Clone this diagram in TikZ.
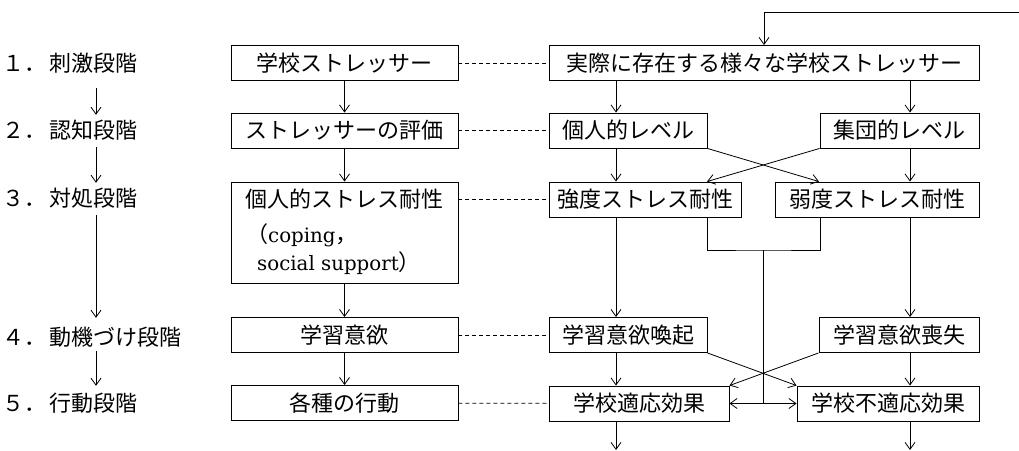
\documentclass[tikz,border=0pt]{standalone}
\usepackage{fontspec}
\setmainfont{Noto Sans CJK JP}
\newfontfamily\lat[Scale=0.9]{DejaVu Serif}
\usetikzlibrary{arrows.meta}
\begin{document}
\begin{tikzpicture}[x=1pt,y=-1pt,
  font=\fontsize{22}{26}\selectfont,
  box/.style={draw, line width=0.9pt, inner sep=0pt, minimum height=35pt},
  txt/.style={inner sep=0pt},
  lab/.style={inner sep=0pt, anchor=west, minimum height=26pt},
  arr/.style={line width=0.8pt, -{Straight Barb[length=7pt,width=10pt,line width=0.8pt]}},
  ln/.style={line width=0.8pt},
  dsh/.style={line width=0.8pt, dash pattern=on 4pt off 3pt}]
\useasboundingbox[fill=white] (0,0) rectangle (1019,450);

% stage labels
\node[lab] (L1) at (2,63)  {１．\hspace{3pt}刺激段階};
\node[lab] (L2) at (2,130) {２．\hspace{3pt}認知段階};
\node[lab] (L3) at (2,198) {３．\hspace{3pt}対処段階};
\node[lab] (L4) at (2,337) {４．\hspace{3pt}動機づけ段階};
\node[lab] (L5) at (2,403) {５．\hspace{3pt}行動段階};
\coordinate (ax) at (96,0);
\draw[arr, shorten <=12pt, shorten >=2pt] (L1.south -| ax) -- (L2.north -| ax);
\draw[arr, shorten <=4pt, shorten >=2pt] (L2.south -| ax) -- (L3.north -| ax);
\draw[arr, shorten <=4pt, shorten >=6pt] (L3.south -| ax) -- (L4.north -| ax);
\draw[arr, shorten <=1pt, shorten >=4pt] (L4.south -| ax) -- (L5.north -| ax);

% left column
\node[box, minimum width=227pt] (A1) at (344.5,63) {学校ストレッサー};
\node[box, minimum width=227pt] (A2) at (344.5,130.5) {ストレッサーの評価};
\node[box, minimum width=227pt, minimum height=101pt] (A3) at (344.5,232.5) {};
\node[txt] (A3a) at (344.5,199) {個人的ストレス耐性};
\node[txt, anchor=west] (A3b) at (246,235) {（{\lat coping}，};
\node[txt, anchor=west] (A3c) at (257,263) {{\lat social support}）};
\node[box, minimum width=227pt] (A4) at (344.5,335) {学習意欲};
\node[box, minimum width=227pt] (A5) at (344.5,403) {各種の行動};
\draw[arr] (A1) -- (A2);
\draw[arr] (A2) -- (A3);
\draw[arr] (A3) -- (A4);
\draw[arr] (A4) -- (A5);

% right part
\node[box, minimum width=430pt] (B1) at (764,63) {実際に存在する様々な学校ストレッサー};
\node[box, minimum width=158pt] (P2) at (628,130.5) {個人的レベル};
\node[box, minimum width=159pt] (G2) at (899.5,130.5) {集団的レベル};
\node[box, minimum width=192pt] (S3) at (645,199.5) {強度ストレス耐性};
\node[box, minimum width=204pt] (W3) at (877,199.5) {弱度ストレス耐性};
\node[box, minimum width=158pt] (P4) at (628,335) {学習意欲喚起};
\node[box, minimum width=160pt] (G4) at (899,335) {学習意欲喪失};
\node[box, minimum width=180pt] (P5) at (639,403.5) {学校適応効果};
\node[box, minimum width=182pt] (G5) at (888,403.5) {学校不適応効果};

\coordinate (vl) at (616,0);
\coordinate (vr) at (910,0);
\coordinate (fb) at (1019,12);
\draw[arr] (fb) -| (B1.north);
\draw[arr] (B1.south -| vl) -- (P2.north -| vl);
\draw[arr] (B1.south -| vr) -- (G2.north -| vr);
\draw[arr] (P2.south -| vl) -- (S3.north -| vl);
\draw[arr] (G2.south -| vr) -- (W3.north -| vr);
\coordinate (cx1) at (819,0);
\coordinate (cx2) at (707,0);
\draw[arr] (P2.south east) -- (W3.north -| cx1);
\draw[arr] (G2.south west) -- (S3.north -| cx2);
\draw[arr] (S3.south -| vl) -- (P4.north -| vl);
\draw[arr] (W3.south -| vr) -- (G4.north -| vr);

% junction
\coordinate (jl) at (707,0);
\coordinate (jr) at (820,0);
\coordinate (jc) at (763,250);
\draw[ln] (S3.south -| jl) |- (jc) -| (W3.south -| jr);
\draw[arr] (jc) |- (P5.east);
\draw[arr] (jc) |- (G5.west);

\draw[arr] (P4.south -| vl) -- (P5.north -| vl);
\draw[arr] (G4.south -| vr) -- (G5.north -| vr);
\draw[arr] (P4.south east) -- (G5.north west);
\draw[arr] (G4.south west) -- (P5.north east);

\coordinate (e1) at (616,450);
\coordinate (e2) at (910,450);
\draw[arr] (P5.south -| vl) -- (e1);
\draw[arr] (G5.south -| vr) -- (e2);

% dashed links
\draw[dsh] (A1) -- (B1);
\draw[dsh] (A2) -- (P2);
\draw[dsh] (A3.east |- S3.west) -- (S3.west);
\draw[dsh] (A4) -- (P4);
\draw[dsh] (A5) -- (P5);
\end{tikzpicture}
\end{document}
